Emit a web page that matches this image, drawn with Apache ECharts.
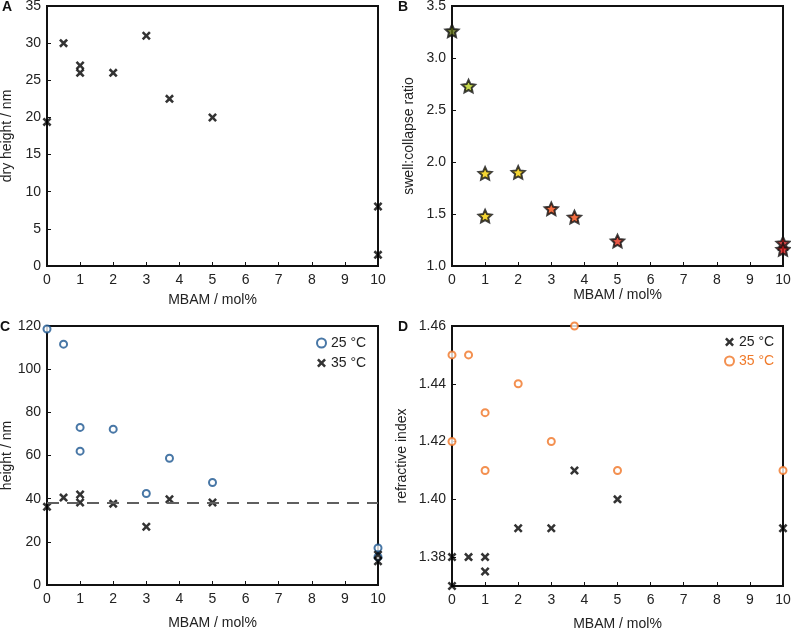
<!DOCTYPE html>
<html>
<head>
<meta charset="utf-8">
<script src="https://cdn.jsdelivr.net/npm/echarts@6/dist/echarts.min.js"></script>
<style>html,body{margin:0;padding:0;background:#fff}#c{width:791px;height:629px}</style>
</head>
<body>
<div id="c"></div>
<script>
// Panel A: dry height
const dryX = [0, 0.5, 1, 1, 2, 3, 3.7, 5, 10, 10];
const dryY = [19.4, 30, 27, 26, 26, 31, 22.5, 20, 8, 1.5];
// Panel B: swell:collapse ratio
const ratioX = [0, 0.5, 1, 1, 2, 3, 3.7, 5, 10, 10];
const ratioY = [3.26, 2.73, 1.89, 1.48, 1.90, 1.55, 1.47, 1.24, 1.22, 1.16];
// Panel C: height at 25 and 35 °C
const h25X = [0, 0.5, 1, 1, 2, 3, 3.7, 5, 10, 10];
const h25Y = [118.6, 111.6, 73.0, 62.0, 72.2, 42.4, 58.7, 47.5, 17.2, 13];
const h35X = [0, 0.5, 1, 1, 2, 3, 3.7, 5, 10, 10];
const h35Y = [36.2, 40.5, 41.9, 38.2, 37.7, 27.0, 39.7, 38.2, 14, 11];
const collapsedLevel = 38;
// Panel D: refractive index
const ri25X = [0, 0, 0.5, 1, 1, 2, 3, 3.7, 5, 10];
const ri25Y = [1.38, 1.37, 1.38, 1.38, 1.375, 1.39, 1.39, 1.41, 1.40, 1.39];
const ri35X = [0, 0, 0.5, 1, 1, 2, 3, 3.7, 5, 10];
const ri35Y = [1.45, 1.42, 1.45, 1.43, 1.41, 1.44, 1.42, 1.46, 1.41, 1.41];
const riTicks = [1.38, 1.40, 1.42, 1.44, 1.46];

const zip = (xs, ys) => xs.map((x, i) => [x, ys[i]]);
const FONT = '"Liberation Sans", Arial, sans-serif';
const TXT = '#222';
const CROSS = 'path://M0,2 L2,0 L5,3 L8,0 L10,2 L7,5 L10,8 L8,10 L5,7 L2,10 L0,8 L3,5 Z';
const STAR = 'path://M50,0 L64.11,30.58 L97.55,34.55 L72.83,57.42 L79.39,90.45 L50,74 L20.61,90.45 L27.17,57.42 L2.45,34.55 L35.89,30.58 Z';

function grid(left, top, width, height) {
  return {left, top, width, height, show: true, borderColor: '#111', borderWidth: 2,
    backgroundColor: 'transparent', containLabel: false, outerBoundsMode: 'none'};
}
function xAx(gi, gap) {
  return {type: 'value', gridIndex: gi, min: 0, max: 10, interval: 1,
    name: 'MBAM / mol%', nameLocation: 'middle', nameGap: gap,
    nameTextStyle: {fontSize: 14, color: TXT, fontFamily: FONT},
    axisLine: {show: true, onZero: false, lineStyle: {color: '#111', width: 2}},
    axisTick: {show: true, inside: true, length: 4, lineStyle: {color: '#111', width: 1}},
    axisLabel: {fontSize: 14, color: TXT, fontFamily: FONT, margin: 7, showMinLabel: true, showMaxLabel: true},
    splitLine: {show: false}};
}
function yAx(gi, name, gap, min, max, interval, dec) {
  return {type: 'value', gridIndex: gi, min, max, interval,
    name, nameLocation: 'middle', nameGap: gap, nameRotate: 90,
    nameTextStyle: {fontSize: 14, color: TXT, fontFamily: FONT},
    axisLine: {show: true, onZero: false, lineStyle: {color: '#111', width: 2}},
    axisTick: {show: true, inside: true, length: 4, lineStyle: {color: '#111', width: 1}},
    axisLabel: {fontSize: 14, color: TXT, fontFamily: FONT, margin: 6, showMinLabel: true, showMaxLabel: true,
      formatter: v => dec ? Number(v).toFixed(dec) : String(v)},
    splitLine: {show: false}};
}

const yD = yAx(3, 'refractive index', 43, 1.37, 1.46, 0.01, 2);
yD.axisLabel.customValues = riTicks;
yD.axisTick.customValues = riTicks;

const option = {
  animation: false,
  textStyle: {fontFamily: FONT},
  title: [
    {text: 'A', left: 2, top: 0, padding: 0, textStyle: {fontSize: 14, fontWeight: 'bold', color: '#111', fontFamily: FONT}},
    {text: 'B', left: 398, top: 0, padding: 0, textStyle: {fontSize: 14, fontWeight: 'bold', color: '#111', fontFamily: FONT}},
    {text: 'C', left: 0, top: 320, padding: 0, textStyle: {fontSize: 14, fontWeight: 'bold', color: '#111', fontFamily: FONT}},
    {text: 'D', left: 398, top: 320, padding: 0, textStyle: {fontSize: 14, fontWeight: 'bold', color: '#111', fontFamily: FONT}}
  ],
  grid: [
    grid(47, 6, 331, 260),
    grid(452, 6, 331, 260),
    grid(47, 326, 331, 259),
    grid(452, 326, 331, 260)
  ],
  xAxis: [xAx(0, 27), xAx(1, 21), xAx(2, 31), xAx(3, 31)],
  yAxis: [
    yAx(0, 'dry height / nm', 33, 0, 35, 5, 0),
    yAx(1, 'swell:collapse ratio', 36, 1.0, 3.5, 0.5, 1),
    yAx(2, 'height / nm', 33, 0, 120, 20, 0),
    yD
  ],
  legend: [
    {left: 316, top: 336, orient: 'vertical', itemWidth: 9, itemHeight: 9, itemGap: 6, padding: 0,
      textStyle: {fontSize: 14, color: TXT, fontFamily: FONT},
      data: ['25 °C', '35 °C']},
    {left: 724, top: 335, orient: 'vertical', itemWidth: 9, itemHeight: 9, itemGap: 5, padding: 0,
      formatter: n => n.replace(' (D)', ''),
      textStyle: {fontSize: 14, color: TXT, fontFamily: FONT},
      data: [{name: '25 °C (D)'}, {name: '35 °C (D)', textStyle: {color: '#f07a2a'}}]}
  ],
  visualMap: [{
    type: 'piecewise', show: false, seriesIndex: 1, dimension: 0,
    pieces: [
      {min: -1, max: 0.25, color: '#5b6b12'},
      {min: 0.25, max: 0.75, color: '#b8cf1f'},
      {min: 0.75, max: 2.5, color: '#f2cc00'},
      {min: 2.5, max: 4.5, color: '#f24a12'},
      {min: 4.5, max: 7, color: '#e3301a'},
      {min: 7, max: 11, color: '#d01818'}
    ]
  }],
  series: [
    {type: 'scatter', name: 'dry', xAxisIndex: 0, yAxisIndex: 0, clip: false,
      symbol: CROSS, symbolSize: 9, itemStyle: {color: '#000'}, data: zip(dryX, dryY)},
    {type: 'scatter', name: 'ratio', xAxisIndex: 1, yAxisIndex: 1, clip: false,
      symbol: STAR, symbolSize: 13, symbolKeepAspect: true,
      itemStyle: {borderColor: '#111', borderWidth: 2}, data: zip(ratioX, ratioY)},
    {type: 'scatter', name: '25 °C', xAxisIndex: 2, yAxisIndex: 2, clip: false,
      symbol: 'emptyCircle', symbolSize: 7, itemStyle: {color: '#1a5590', borderWidth: 2.2}, data: zip(h25X, h25Y)},
    {type: 'scatter', name: '35 °C', xAxisIndex: 2, yAxisIndex: 2, clip: false,
      symbol: CROSS, symbolSize: 9, itemStyle: {color: '#000'}, data: zip(h35X, h35Y),
      markLine: {silent: true, symbol: ['none', 'none'], label: {show: false},
        lineStyle: {color: '#5f5f5f', width: 2, type: [12, 8]},
        data: [{yAxis: collapsedLevel}]}},
    {type: 'scatter', name: '35 °C (D)', xAxisIndex: 3, yAxisIndex: 3, clip: false,
      symbol: 'emptyCircle', symbolSize: 7, itemStyle: {color: '#f07424', borderWidth: 2.2}, data: zip(ri35X, ri35Y)},
    {type: 'scatter', name: '25 °C (D)', xAxisIndex: 3, yAxisIndex: 3, clip: false,
      symbol: CROSS, symbolSize: 9, itemStyle: {color: '#000'}, data: zip(ri25X, ri25Y)}
  ]
};
const chart = echarts.init(document.getElementById('c'), null, {renderer: 'canvas'});
chart.setOption(option);
</script>
</body>
</html>
